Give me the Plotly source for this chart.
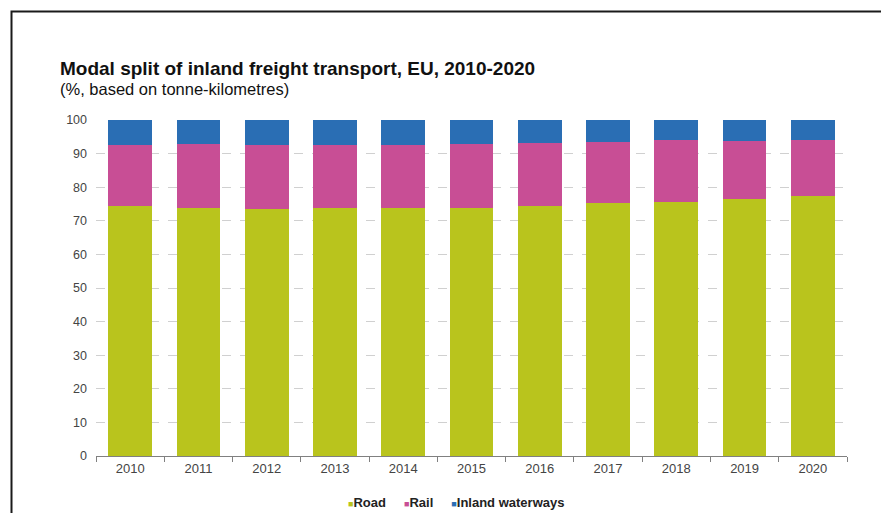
import plotly.graph_objects as go

# Modal split of inland freight transport in the EU (% of tonne-kilometres)
years = ["2010", "2011", "2012", "2013", "2014", "2015",
         "2016", "2017", "2018", "2019", "2020"]
road = [74.4, 73.9, 73.5, 73.9, 73.9, 73.9, 74.3, 75.3, 75.6, 76.4, 77.3]
rail = [18.2, 19.1, 19.1, 18.7, 18.7, 19.0, 18.8, 18.1, 18.4, 17.3, 16.8]
waterways = [round(100 - r - l, 1) for r, l in zip(road, rail)]

series_names = ["Road", "Rail", "Inland waterways"]
colors = ["#B9C41D", "#C84E95", "#2A6EB4"]
y_ticks = [0, 10, 20, 30, 40, 50, 60, 70, 80, 90, 100]

W, H = 881, 513
L, R, T, B = 96, 34, 120, 57
plot_w = W - L - R
plot_h = H - T - B


def px_x(px):
    return (px - L) / plot_w


def px_y(py):
    return (H - B - py) / plot_h


fig = go.Figure()
for name, vals, col in zip(series_names, [road, rail, waterways], colors):
    fig.add_trace(go.Bar(
        x=years, y=vals, name=name,
        marker=dict(color=col, line=dict(width=0)),
        showlegend=False,
    ))

font_family = "Liberation Sans, Arial, sans-serif"

# Legend as a single line of coloured squares and bold labels
legend_parts = []
for name, col in zip(series_names, colors):
    legend_parts.append(
        f"<span style='color:{col};font-size:9px'>■</span><b>{name}</b>"
    )
legend_text = "&nbsp;&nbsp;&nbsp;&nbsp;&nbsp;".join(legend_parts)

fig.update_layout(
    width=W, height=H,
    margin=dict(l=L, r=R, t=T, b=B, autoexpand=False),
    paper_bgcolor="white", plot_bgcolor="white",
    barmode="stack", bargap=0.36,
    font=dict(family=font_family, color="#444444"),
    xaxis=dict(
        type="category",
        showline=True, linecolor="#808080", linewidth=1,
        ticks="outside", tickson="boundaries", ticklen=5,
        tickcolor="#808080", tickwidth=1,
        tickfont=dict(size=13, color="#444444"),
        showgrid=False,
    ),
    yaxis=dict(
        range=[0, 100], tickvals=y_ticks,
        showgrid=True, gridcolor="#D0D0D0", griddash="dash", gridwidth=1,
        zeroline=False, showline=False, ticks="",
        tickfont=dict(size=12.5, color="#444444"),
        ticklabelstandoff=8,
    ),
    annotations=[
        dict(text="<b>Modal split of inland freight transport, EU, 2010-2020</b>",
             xref="paper", yref="paper", x=px_x(58), y=px_y(68),
             xanchor="left", yanchor="middle", showarrow=False,
             font=dict(size=19, color="#111111", family=font_family)),
        dict(text="(%, based on tonne-kilometres)",
             xref="paper", yref="paper", x=px_x(58), y=px_y(89),
             xanchor="left", yanchor="middle", showarrow=False,
             font=dict(size=16.5, color="#111111", family=font_family)),
        dict(text=legend_text,
             xref="paper", yref="paper", x=px_x(346), y=px_y(502),
             xanchor="left", yanchor="middle", showarrow=False,
             font=dict(size=13, color="#222222", family=font_family)),
    ],
    shapes=[
        dict(type="path", xref="paper", yref="paper",
             path=(f"M {px_x(11.5)} {px_y(530)} L {px_x(11.5)} {px_y(11.5)} "
                   f"L {px_x(900)} {px_y(11.5)}"),
             line=dict(color="#1A1A1A", width=2), layer="above"),
    ],
)

fig.write_html("out.html")
